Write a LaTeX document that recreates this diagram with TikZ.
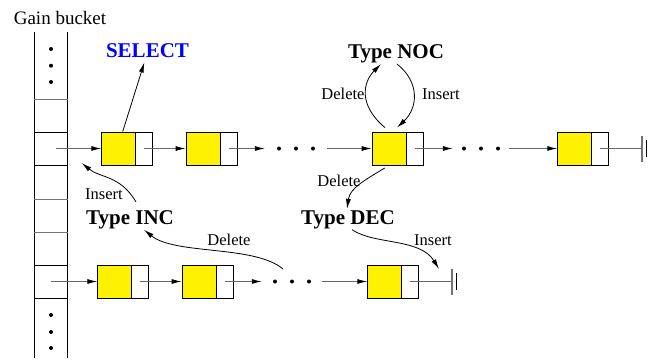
\documentclass[tikz,border=0pt]{standalone}
\usepackage{fontspec}
\setmainfont{Liberation Serif}
\usetikzlibrary{arrows.meta,positioning}

\begin{document}
\begin{tikzpicture}[x=1pt,y=-1pt,
  yel/.style={draw, fill=yellow, minimum width=34pt, minimum height=33pt, inner sep=0pt, line width=0.8pt},
  ptr/.style={draw, fill=white, minimum width=17pt, minimum height=33pt, inner sep=0pt, line width=0.8pt},
  lnk/.style={-{Latex[length=10pt,width=5pt,black]}, line width=0.9pt, black!60},
  crv/.style={-{Latex[length=10pt,width=5pt]}, line width=0.8pt},
  lab/.style={font=\fontsize{16.5}{18}\selectfont, anchor=base, inner sep=1pt},
  typ/.style={font=\fontsize{21}{24}\selectfont\bfseries, anchor=base, inner sep=1pt},
  dotrow/.style={minimum height=10pt, inner sep=0pt}]
\useasboundingbox (0,0) rectangle (653,362);

\node[lab, font=\fontsize{19}{21}\selectfont] (gain) at (60,24) {Gain bucket};

\draw [line width=0.8pt] (34.3,32) -- (34.3,358);
\draw [line width=0.8pt] (67.7,32) -- (67.7,358);
\foreach \y in {99,199,232} \draw [black!55, line width=0.8pt] (34.3,\y) -- (67.7,\y);
\foreach \y in {132,165,265,298} \draw [line width=0.8pt] (34.3,\y) -- (67.7,\y);
\foreach \y in {49,65.7,82,315,332,348} \fill (51,\y) circle (2pt);
\coordinate (b1) at (56,148.5);
\coordinate (b2) at (51,281.5);

\node[yel] (c1) at (118.7,148.5) {};
\node[ptr, right=-0.8pt of c1] (c1p) {};
\node[yel] (c2) at (203,148.5) {};
\node[ptr, right=-0.8pt of c2] (c2p) {};
\node[dotrow, minimum width=62pt] (d1) at (296,148.5) {};
\node[yel] (c3) at (389,148.5) {};
\node[ptr, right=-0.8pt of c3] (c3p) {};
\node[dotrow, minimum width=56pt] (d2) at (481,148.5) {};
\node[yel] (c4) at (574.7,148.5) {};
\node[ptr, right=-0.8pt of c4] (c4p) {};
\coordinate (e1) at (642,148.5);

\node[yel] (r1) at (114.7,281.5) {};
\node[ptr, right=-0.8pt of r1] (r1p) {};
\node[yel] (r2) at (199,281.5) {};
\node[ptr, right=-0.8pt of r2] (r2p) {};
\node[dotrow, minimum width=60pt] (d3) at (292,281.5) {};
\node[yel] (r3) at (384.7,281.5) {};
\node[ptr, right=-0.8pt of r3] (r3p) {};
\coordinate (e2) at (452,281.5);

\foreach \d in {d1,d2,d3}
  \foreach \i in {-17,0,17} \fill ([xshift=\i pt]\d.center) circle (2pt);

\draw [lnk] (b1) -- (c1.west);
\draw [lnk] (c1p.center) -- (c2.west);
\draw [lnk] (c2p.center) -- (d1.west);
\draw [lnk] (d1.east) -- (c3.west);
\draw [lnk] (c3p.center) -- (d2.west);
\draw [lnk] (d2.east) -- (c4.west);
\draw [black!60, line width=0.9pt] (c4p.center) -- (e1);
\draw [black!55, line width=1.3pt] ([yshift=13pt]e1) -- ([yshift=-13pt]e1);
\draw [line width=0.8pt] ([xshift=4pt,yshift=8.5pt]e1) -- ([xshift=4pt,yshift=-8.5pt]e1);

\draw [lnk] (b2) -- (r1.west);
\draw [lnk] (r1p.center) -- (r2.west);
\draw [lnk] (r2p.center) -- (d3.west);
\draw [lnk] (d3.east) -- (r3.west);
\draw [black!60, line width=0.9pt] (r3p.center) -- (e2);
\draw [black!55, line width=1.3pt] ([yshift=13pt]e2) -- ([yshift=-13pt]e2);
\draw [line width=0.8pt] ([xshift=4pt,yshift=8.5pt]e2) -- ([xshift=4pt,yshift=-8.5pt]e2);

\node[typ, text=blue] (sel) at (147.5,57.3) {SELECT};
\node[typ] (noc) at (396,58.3) {Type NOC};
\node[typ] (inc) at (130,224) {Type INC};
\node[typ] (dec) at (348,224) {Type DEC};

\node[lab] (ldn) at (343,99.3) {Delete};
\node[lab] (lin) at (441,99.3) {Insert};
\node[lab] (ldd) at (339,186) {Delete};
\node[lab] (lid) at (433,245) {Insert};
\node[lab] (ldi) at (229,245) {Delete};
\node[lab] (lii) at (104,199) {Insert};

\coordinate (ti) at (81.7,163);
\draw [crv, shorten >=4pt] ([xshift=4pt]c1.north) -- ([xshift=-2pt]sel.south);
\draw [crv] ([xshift=-4pt,yshift=4pt]c3.north) .. controls (358,105) and (363,82) .. ([xshift=-15pt]noc.south);
\draw [crv] ([xshift=1pt]noc.south) .. controls (420,82) and (418,108) .. ([xshift=8pt,yshift=4pt]c3.north);
\draw [crv, shorten <=5pt] (c3.south) .. controls (365,180) and (350,188) .. ([xshift=-1pt]dec.north);
\draw [crv] ([xshift=4pt]dec.south) .. controls (375,245) and (420,238) .. ([xshift=-13pt,yshift=12.5pt]e2);
\draw [crv] ([xshift=-9pt,yshift=12.5pt]d3.center) .. controls (255,245) and (175,255) .. ([xshift=14pt]inc.south);
\draw [crv] ([xshift=6pt,yshift=7pt]inc.north) .. controls (120,175) and (100,178) .. (ti);

\end{tikzpicture}
\end{document}
